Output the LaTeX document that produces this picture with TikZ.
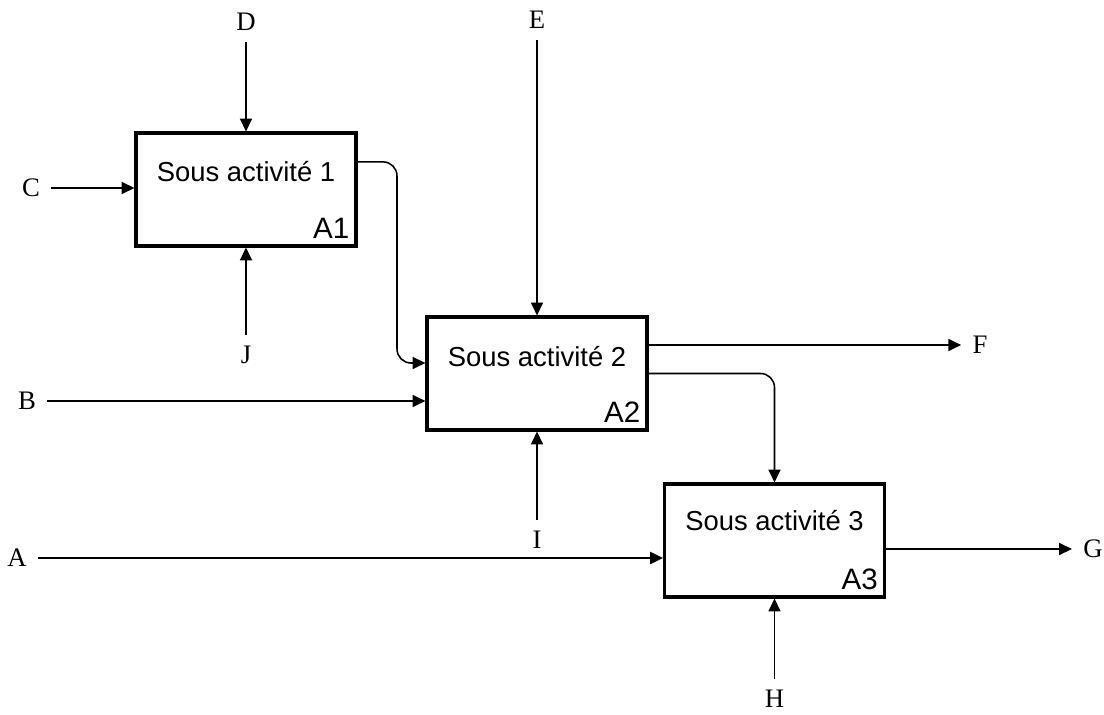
\documentclass[tikz,border=0pt]{standalone}
\usepackage{fontspec}
\setmainfont{Liberation Serif}
\setsansfont{Liberation Sans}
\usetikzlibrary{positioning, arrows.meta}
\tikzset{
  activite/.style = {draw, line width=2.2pt, minimum width=5.5cm, minimum height=2.825cm, inner sep=0pt},
  titre/.style = {font=\sffamily\fontsize{19.5}{19.5}\selectfont},
  code/.style = {font=\sffamily\fontsize{21}{21}\selectfont, anchor=south east, inner sep=0pt},
  fleche/.style = {line width=#1, -{Triangle[length=0.32cm, width=0.3cm]}},
  fleche/.default = 1.1pt,
  etiquette/.style = {font=\fontsize{19}{19}\selectfont, inner sep=1pt, outer sep=0.25cm},
}

\begin{document}
\begin{tikzpicture}[x=0.025cm, y=-0.025cm]
  \useasboundingbox (0,0) rectangle (1104,715);

  % les trois sous activites
  \node[activite] (A1) at (246,189.5) {};
  \node[activite] (A2) at (537,373.5) {};
  \node[activite] (A3) at (774.5,540.5) {};
  \node[titre] (tA1) at ([yshift=-1.0cm]A1.north) {Sous activité 1};
  \node[titre] (tA2) at ([yshift=-1.02cm]A2.north) {Sous activité 2};
  \node[titre] (tA3) at ([yshift=-0.95cm]A3.north) {Sous activité 3};
  \node[code] (cA1) at ([shift={(-0.2cm,0.22cm)}]A1.south east) {A1};
  \node[code] (cA2) at ([shift={(-0.2cm,0.22cm)}]A2.south east) {A2};
  \node[code] (cA3) at ([shift={(-0.2cm,0.22cm)}]A3.south east) {A3};

  % etiquettes
  \node[etiquette] (D) at (246,22) {D};
  \node[etiquette] (C) at (31,188) {C};
  \node[etiquette] (J) at (246,355) {J};
  \node[etiquette] (E) at (537,20) {E};
  \node[etiquette] (B) at (27,401) {B};
  \node[etiquette] (I) at (537,540) {I};
  \node[etiquette] (F) at (980,345) {F};
  \node[etiquette] (A) at (17,558) {A};
  \node[etiquette] (G) at (1093,549) {G};
  \node[etiquette] (H) at (774.5,699) {H};

  % fleches
  \draw[fleche=1.3pt] (D) -- (A1);
  \draw[fleche=1.3pt] (C) -- (C -| A1.west);
  \draw[fleche=1.3pt] (J) -- (A1);
  \draw[fleche] (E) -- (A2);
  \draw[fleche] (B) -- (B -| A2.west);
  \draw[fleche] (I) -- (A2);
  \draw[fleche=1.5pt] (A) -- (A -| A3.west);
  \draw[fleche] (H) -- (A3);
  \draw[fleche] (A2.east |- F) -- (F);
  \draw[fleche] (A3.east |- G) -- (G);

  \coordinate (virage1) at (397,363);
  \draw[fleche, rounded corners=0.35cm] ([yshift=0.69cm]A1.east) -| (virage1) -- (virage1 -| A2.west);
  \draw[fleche, rounded corners=0.35cm] (A2.east) -| (A3.north);
\end{tikzpicture}
\end{document}
